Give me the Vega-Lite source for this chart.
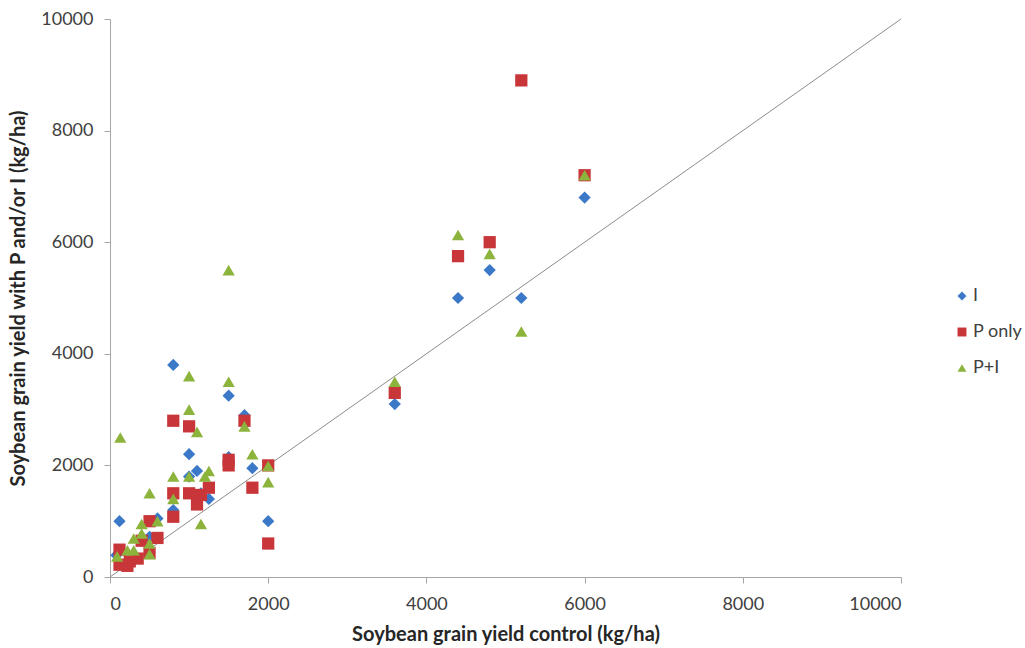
{
  "$schema": "https://vega.github.io/schema/vega-lite/v6.json",
  "autosize": {"type": "none"},
  "padding": {"left": 110, "top": 19, "right": 124, "bottom": 71},
  "width": 791,
  "height": 558,
  "background": "white",
  "config": {"view": {"stroke": null}, "font": "Lato"},
  "layer": [
    {
      "data": {"values": [{"cx": 0, "cy": 0}, {"cx": 10000, "cy": 10000}]},
      "mark": {"type": "line", "color": "#8c8c8c", "strokeWidth": 1},
      "encoding": {
        "x": {"field": "cx", "type": "quantitative", "scale": {"domain": [0, 10000]}},
        "y": {"field": "cy", "type": "quantitative", "scale": {"domain": [0, 10000]}}
      }
    },
    {
      "data": {"values": [
        {"control": 6000, "yield": 6800, "treatment": "I"},
        {"control": 5200, "yield": 5000, "treatment": "I"},
        {"control": 4800, "yield": 5500, "treatment": "I"},
        {"control": 4400, "yield": 5000, "treatment": "I"},
        {"control": 3600, "yield": 3100, "treatment": "I"},
        {"control": 2000, "yield": 1000, "treatment": "I"},
        {"control": 1800, "yield": 1950, "treatment": "I"},
        {"control": 1700, "yield": 2900, "treatment": "I"},
        {"control": 1500, "yield": 3250, "treatment": "I"},
        {"control": 1500, "yield": 2150, "treatment": "I"},
        {"control": 1250, "yield": 1400, "treatment": "I"},
        {"control": 1150, "yield": 1500, "treatment": "I"},
        {"control": 1100, "yield": 1900, "treatment": "I"},
        {"control": 1000, "yield": 2200, "treatment": "I"},
        {"control": 1000, "yield": 1800, "treatment": "I"},
        {"control": 800, "yield": 3800, "treatment": "I"},
        {"control": 800, "yield": 1200, "treatment": "I"},
        {"control": 600, "yield": 1050, "treatment": "I"},
        {"control": 500, "yield": 720, "treatment": "I"},
        {"control": 400, "yield": 650, "treatment": "I"},
        {"control": 120, "yield": 1000, "treatment": "I"},
        {"control": 80, "yield": 390, "treatment": "I"},
        {"control": 250, "yield": 300, "treatment": "I"},

        {"control": 6000, "yield": 7200, "treatment": "P only"},
        {"control": 5200, "yield": 8900, "treatment": "P only"},
        {"control": 4800, "yield": 6000, "treatment": "P only"},
        {"control": 4400, "yield": 5750, "treatment": "P only"},
        {"control": 3600, "yield": 3300, "treatment": "P only"},
        {"control": 2000, "yield": 2000, "treatment": "P only"},
        {"control": 2000, "yield": 600, "treatment": "P only"},
        {"control": 1800, "yield": 1600, "treatment": "P only"},
        {"control": 1700, "yield": 2800, "treatment": "P only"},
        {"control": 1500, "yield": 2100, "treatment": "P only"},
        {"control": 1500, "yield": 2000, "treatment": "P only"},
        {"control": 1250, "yield": 1600, "treatment": "P only"},
        {"control": 1150, "yield": 1470, "treatment": "P only"},
        {"control": 1100, "yield": 1300, "treatment": "P only"},
        {"control": 1000, "yield": 2700, "treatment": "P only"},
        {"control": 1000, "yield": 1500, "treatment": "P only"},
        {"control": 800, "yield": 2800, "treatment": "P only"},
        {"control": 800, "yield": 1500, "treatment": "P only"},
        {"control": 800, "yield": 1080, "treatment": "P only"},
        {"control": 600, "yield": 700, "treatment": "P only"},
        {"control": 500, "yield": 1000, "treatment": "P only"},
        {"control": 500, "yield": 430, "treatment": "P only"},
        {"control": 400, "yield": 650, "treatment": "P only"},
        {"control": 350, "yield": 330, "treatment": "P only"},
        {"control": 250, "yield": 280, "treatment": "P only"},
        {"control": 120, "yield": 490, "treatment": "P only"},
        {"control": 120, "yield": 220, "treatment": "P only"},
        {"control": 220, "yield": 200, "treatment": "P only"},

        {"control": 6000, "yield": 7200, "treatment": "P+I"},
        {"control": 5200, "yield": 4400, "treatment": "P+I"},
        {"control": 4800, "yield": 5790, "treatment": "P+I"},
        {"control": 4400, "yield": 6130, "treatment": "P+I"},
        {"control": 3600, "yield": 3500, "treatment": "P+I"},
        {"control": 2000, "yield": 1700, "treatment": "P+I"},
        {"control": 2000, "yield": 1990, "treatment": "P+I"},
        {"control": 1800, "yield": 2200, "treatment": "P+I"},
        {"control": 1700, "yield": 2700, "treatment": "P+I"},
        {"control": 1500, "yield": 3500, "treatment": "P+I"},
        {"control": 1500, "yield": 5500, "treatment": "P+I"},
        {"control": 1250, "yield": 1900, "treatment": "P+I"},
        {"control": 1200, "yield": 1800, "treatment": "P+I"},
        {"control": 1150, "yield": 950, "treatment": "P+I"},
        {"control": 1100, "yield": 2600, "treatment": "P+I"},
        {"control": 1000, "yield": 3600, "treatment": "P+I"},
        {"control": 1000, "yield": 3000, "treatment": "P+I"},
        {"control": 1000, "yield": 1800, "treatment": "P+I"},
        {"control": 800, "yield": 1800, "treatment": "P+I"},
        {"control": 800, "yield": 1400, "treatment": "P+I"},
        {"control": 600, "yield": 1000, "treatment": "P+I"},
        {"control": 500, "yield": 1500, "treatment": "P+I"},
        {"control": 500, "yield": 600, "treatment": "P+I"},
        {"control": 500, "yield": 410, "treatment": "P+I"},
        {"control": 400, "yield": 950, "treatment": "P+I"},
        {"control": 400, "yield": 780, "treatment": "P+I"},
        {"control": 300, "yield": 690, "treatment": "P+I"},
        {"control": 300, "yield": 480, "treatment": "P+I"},
        {"control": 220, "yield": 480, "treatment": "P+I"},
        {"control": 130, "yield": 2500, "treatment": "P+I"},
        {"control": 90, "yield": 370, "treatment": "P+I"}
      ]},
      "mark": {"type": "point", "filled": true, "opacity": 1, "size": 150},
      "encoding": {
        "x": {
          "field": "control", "type": "quantitative",
          "scale": {"domain": [0, 10000], "nice": false},
          "axis": {
            "title": "Soybean grain yield control (kg/ha)",
            "values": [0, 2000, 4000, 6000, 8000, 10000], "format": "d",
            "grid": false, "domainColor": "#a6a6a6", "tickColor": "#a6a6a6",
            "tickSize": 6, "labelPadding": 12, "labelFontSize": 18, "labelColor": "#404040",
            "titleFontSize": 20, "titleFontWeight": "bold", "titleColor": "#262626", "titlePadding": 11
          }
        },
        "y": {
          "field": "yield", "type": "quantitative",
          "scale": {"domain": [0, 10000], "nice": false},
          "axis": {
            "title": "Soybean grain yield with P and/or I (kg/ha)",
            "values": [0, 2000, 4000, 6000, 8000, 10000], "format": "d",
            "grid": false, "domainColor": "#a6a6a6", "tickColor": "#a6a6a6",
            "tickSize": 6, "labelPadding": 11, "labelFontSize": 18, "labelColor": "#404040",
            "titleFontSize": 20, "titleFontWeight": "bold", "titleColor": "#262626", "titlePadding": 12
          }
        },
        "color": {
          "field": "treatment", "type": "nominal",
          "scale": {"domain": ["I", "P only", "P+I"], "range": ["#3c78c8", "#c8363a", "#8cb43c"]},
          "legend": {
            "title": null, "orient": "none", "legendX": 843, "legendY": 268,
            "labelFontSize": 18, "labelColor": "#404040", "rowPadding": 18, "symbolSize": 80,
            "labelOffset": 2
          }
        },
        "shape": {
          "field": "treatment", "type": "nominal",
          "scale": {"domain": ["I", "P only", "P+I"], "range": ["diamond", "square", "triangle-up"]},
          "legend": null
        },
        "order": {"field": "treatment", "sort": "ascending"}
      }
    }
  ]
}
